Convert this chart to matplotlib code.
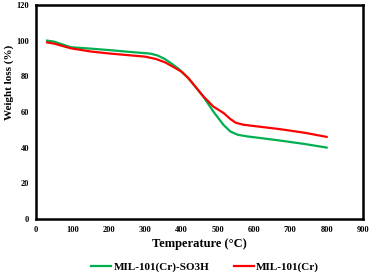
import numpy as np
import matplotlib.pyplot as plt

plt.rcParams['font.family'] = 'Liberation Serif'
plt.rcParams['font.weight'] = 'bold'

temp_so3h = [30, 50, 95, 150, 200, 250, 315, 335, 355, 375, 395, 415, 435, 461, 488, 516, 535, 555, 580, 620, 673, 740, 800]
wt_so3h = [100, 99.4, 96.3, 95.5, 94.7, 93.8, 92.7, 91.6, 89.6, 86.8, 83.7, 79.8, 75.0, 68.4, 60.2, 52.7, 49.0, 47.2, 46.3, 45.3, 43.9, 42, 40]
temp_cr = [30, 50, 95, 150, 200, 250, 300, 330, 355, 380, 400, 420, 440, 461, 488, 516, 535, 550, 571, 620, 673, 740, 800]
wt_cr = [99, 98.3, 95.7, 93.9, 92.8, 91.9, 91.0, 89.7, 87.8, 85.0, 82.6, 78.8, 73.8, 68.6, 63, 59.4, 56.0, 53.9, 52.8, 51.6, 50.3, 48.3, 46]

fig = plt.figure(figsize=(3.73, 2.75), dpi=100)
ax = fig.add_axes([0.097, 0.204, 0.876, 0.778])

ax.plot(temp_so3h, wt_so3h, color='#00b050', lw=1.6, label='MIL-101(Cr)-SO3H')
ax.plot(temp_cr, wt_cr, color='#ff0000', lw=1.6, label='MIL-101(Cr)')

ax.set_xlim(0, 900)
ax.set_ylim(0, 120)
ax.set_xticks(range(0, 901, 100))
ax.set_yticks(range(0, 121, 20))
ax.tick_params(length=0, labelsize=6, pad=5)
for s in ax.spines.values():
    s.set_linewidth(1.8)

ax.set_xlabel('Temperature (°C)', fontsize=9, fontweight='bold', labelpad=3)
fig.text(0.024, 0.70, 'Weight loss (%)', rotation=90, fontsize=8, fontweight='bold',
         ha='center', va='center')

fig.legend(loc='center', bbox_to_anchor=(0.55, 0.03), ncol=2, frameon=False,
           fontsize=8, handlelength=1.8, handletextpad=0.2, columnspacing=2.2,
           prop={'weight': 'bold', 'size': 8})

fig.savefig('out.png', dpi=100)
